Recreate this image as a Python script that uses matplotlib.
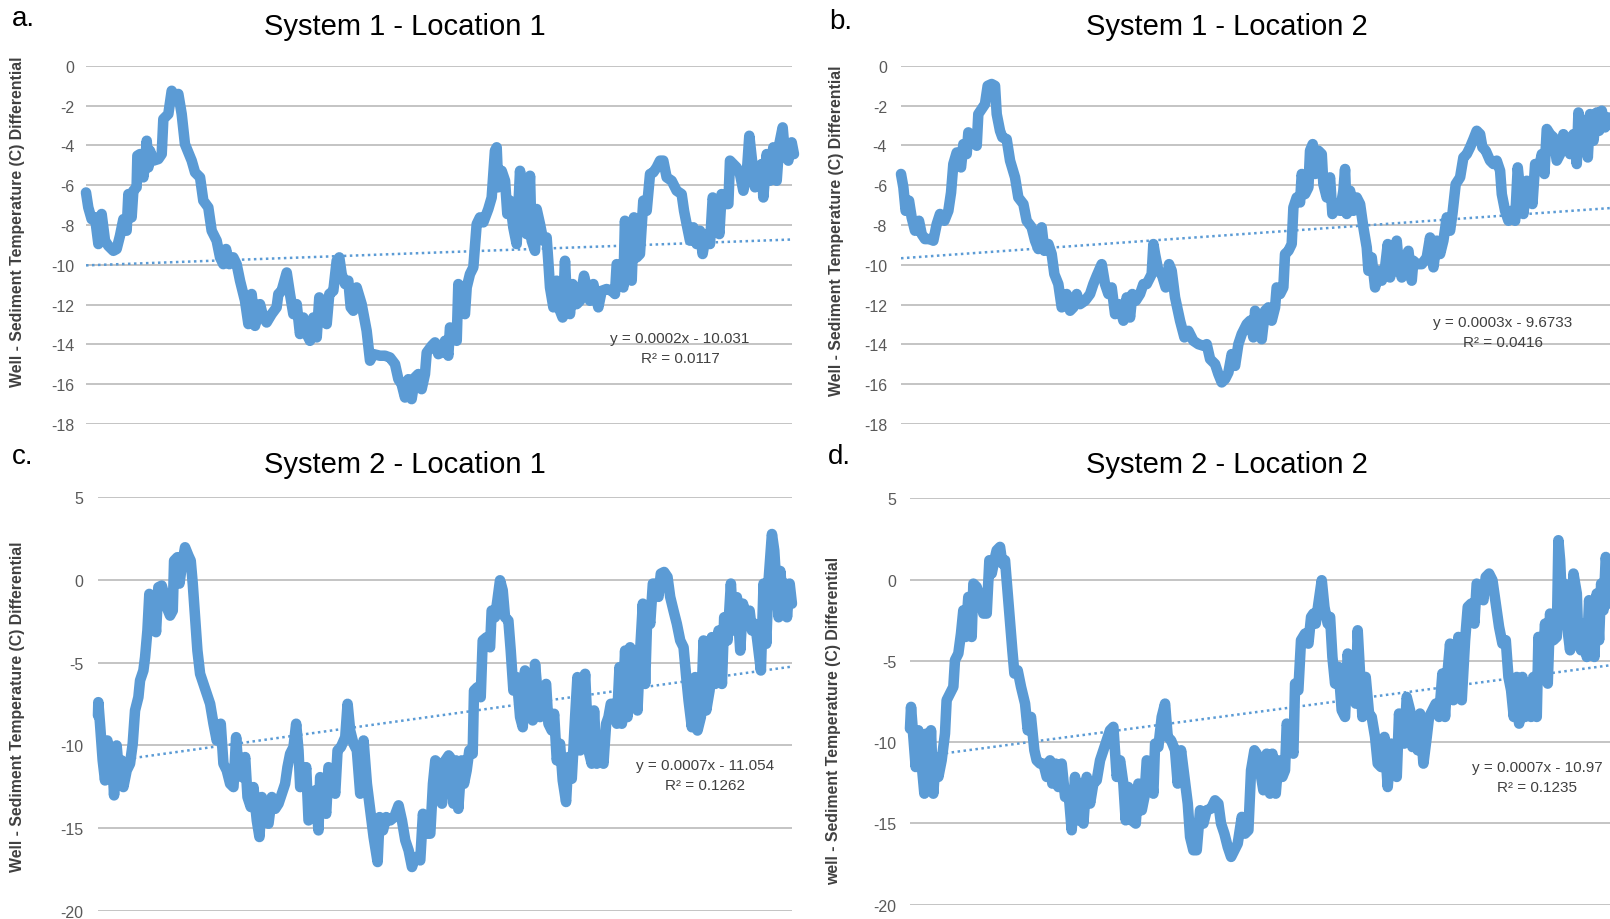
import matplotlib
matplotlib.use("Agg")
import matplotlib.pyplot as plt
import numpy as np

plt.rcParams['font.family'] = ['Liberation Sans Narrow', 'Liberation Sans', 'DejaVu Sans']

# ---------------- DATA ----------------
titles = ["System 1 - Location 1", "System 1 - Location 2",
          "System 2 - Location 1", "System 2 - Location 2"]
letters = ["a.", "b.", "c.", "d."]
ylabels = ["Well - Sediment Temperature (C) Differential",
           "Well - Sediment Temperature (C) Differential",
           "Well - Sediment Temperature (C) Differential",
           "well - Sediment Temperature (C) Differential"]
slopes = [0.0002, 0.0003, 0.0007, 0.0007]
intercepts = [-10.031, -9.6733, -11.054, -10.97]
eq_texts = ["y = 0.0002x - 10.031", "y = 0.0003x - 9.6733",
            "y = 0.0007x - 11.054", "y = 0.0007x - 10.97"]
r2_texts = ["R² = 0.0117", "R² = 0.0416", "R² = 0.1262", "R² = 0.1235"]
x_max = [6500, 8400, 8300, 8140]
yticks_12 = [0, -2, -4, -6, -8, -10, -12, -14, -16, -18]
yticks_34 = [5, 0, -5, -10, -15, -20]

a_x = [0,21,52,83,114,144,175,206,252,282,313,344,374,390,420,436,466,473,497,528,543,559,574,589,620,666,697,712,758,789,819,850,881,911,942,973,1004,1050,1080,1126,1157,1203,1234,1264,1289,1320,1356,1387,1418,1464,1495,1525,1556,1602,1633,1663,1709,1755,1771,1801,1848,1878,1909,1940,1970,2001,2032,2062,2093,2124,2148,2185,2216,2240,2277,2308,2332,2354,2385,2415,2437,2461,2492,2538,2584,2615,2645,2707,2753,2799,2845,2876,2906,2937,2968,2998,3029,3060,3090,3121,3137,3183,3213,3244,
       3274,3305,3336,3351,3382,3413,3428,3459,3489,3505,3535,3566,3597,3627,3658,3704,3735,3765,3781,3796,3827,3858,3879,3904,3934,3965,3996,4026,4057,4088,4103,4134,4149,4180,4210,4241,4256,4272,4303,4333,4364,4388,4410,4425,4456,4480,4517,4548,4585,4609,4640,4671,4717,4748,4793,4840,4870,4886,4916,4947,4962,4993,5024,5045,5070,5100,5131,5162,5193,5223,5254,5285,5315,5346,5392,5438,5484,5506,5530,5561,5592,5622,5653,5677,5708,5745,5770,5800,5831,5852,5883,5914,5929,5960,5990,6021,6052,6083,6107,6129,6159,6190,6221,6236,6267,6297,6328,6359,6383,6414,6435,6466,6497,6518]
a_y = [-6.37,-7.12,-7.71,-7.62,-8.96,-7.45,-8.79,-9.05,-9.30,-9.21,-8.54,-7.71,-8.29,-6.45,-7.62,-6.28,-6.11,-4.52,-4.44,-5.61,-4.94,-3.77,-5.11,-4.27,-4.77,-4.69,-4.44,-2.68,-2.43,-1.26,-1.59,-1.42,-2.43,-3.94,-4.36,-4.77,-5.36,-5.61,-6.78,-7.12,-8.29,-8.79,-9.63,-9.97,-9.21,-9.97,-9.63,-9.97,-10.80,-11.81,-12.98,-11.47,-13.07,-11.98,-12.65,-12.90,-12.48,-12.14,-11.47,-11.31,-10.39,-11.47,-12.48,-11.98,-13.48,-12.65,-13.48,-13.82,-12.65,-13.65,-11.64,-12.48,-12.98,-11.47,-11.31,-9.80,-9.63,-10.47,-10.97,-10.80,-12.14,-12.31,-11.14,-11.98,-13.32,-14.82,-14.49,-14.57,-14.57,-14.66,-14.99,-15.75,-16.00,-16.67,-15.75,-16.75,-15.66,-15.49,-16.25,-15.49,-14.41,-14.07,-13.90,-14.49,
       -14.41,-13.82,-14.57,-13.15,-13.48,-13.82,-10.97,-12.31,-12.48,-11.14,-10.47,-10.13,-7.96,-7.62,-7.87,-7.20,-6.62,-4.27,-4.10,-6.11,-5.28,-5.78,-7.45,-6.78,-8.12,-8.96,-5.28,-7.12,-8.46,-5.53,-8.79,-9.30,-7.20,-7.96,-8.79,-8.63,-9.80,-11.14,-12.14,-10.80,-12.31,-12.65,-9.80,-11.47,-12.48,-10.97,-11.98,-11.81,-10.55,-11.14,-11.81,-10.97,-12.14,-11.31,-11.22,-11.31,-11.47,-9.97,-10.13,-11.14,-7.79,-9.80,-10.80,-7.62,-9.63,-9.46,-6.78,-7.29,-5.44,-5.36,-5.11,-4.77,-4.77,-5.61,-5.78,-6.28,-6.45,-7.29,-7.96,-8.79,-8.12,-8.96,-8.29,-9.46,-8.46,-8.96,-6.62,-7.29,-8.46,-6.45,-6.95,-6.95,-4.77,-4.94,-5.11,-5.44,-6.28,-5.44,-3.52,-4.61,-6.11,-5.11,-4.94,-6.62,-4.44,-5.78,-4.10,-5.78,-3.94,-3.10,-4.44,-4.77,-3.85,-4.44]

b_x = [0,28,55,95,126,166,213,245,284,344,383,423,462,514,561,593,620,660,711,739,778,798,857,897,916,956,995,1027,1074,1114,1134,1173,1201,1252,1292,1351,1390,1450,1489,1548,1588,1627,1667,1699,1746,1785,1817,1864,1904,1963,2003,2042,2082,2121,2180,2240,2279,2319,2378,2417,2457,2496,2536,2583,2635,2674,2714,2741,2781,2832,2872,2911,2970,2990,3010,3049,3089,3136,3176,3207,3247,3306,3358,3405,3464,3523,3583,3622,3662,3721,3760,3800,3839,3879,3918,3958,3997,4037,4096,4136,4175,4195,
       4234,4274,4313,4353,4392,4432,4451,4491,4530,4550,4590,4629,4649,4688,4728,4748,4787,4827,4846,4878,4906,4945,4985,5004,5044,5083,5111,5162,5202,5241,5261,5281,5320,5360,5399,5439,5478,5518,5538,5577,5617,5656,5696,5735,5767,5794,5834,5873,5901,5933,5972,6012,6051,6071,6110,6170,6229,6268,6308,6347,6387,6426,6466,6505,6533,6572,6624,6663,6703,6742,6782,6821,6861,6888,6928,6979,7019,7058,7098,7118,7157,7197,7236,7276,7307,7335,7374,7414,7453,7481,7513,7552,7592,7623,7651,7690,7730,7769,7809,7848,7888,7927,7967,8006,8026,8066,8105,8137,8164,8204,8243,8271,8303,8342,8382,8401]
b_y = [-5.44,-6.11,-7.29,-6.78,-7.62,-8.29,-7.79,-8.46,-8.71,-8.71,-8.79,-7.96,-7.45,-7.79,-7.29,-6.37,-4.94,-4.36,-5.11,-3.94,-4.44,-3.35,-3.85,-4.02,-2.43,-2.18,-1.93,-1.01,-0.92,-1.01,-2.43,-3.27,-3.60,-3.69,-4.77,-5.61,-6.62,-6.95,-7.79,-8.12,-8.79,-9.21,-8.12,-9.30,-8.96,-9.46,-10.47,-10.97,-12.14,-11.47,-12.31,-12.14,-11.47,-11.98,-11.81,-11.47,-10.97,-10.55,-9.97,-10.97,-11.47,-11.14,-12.48,-11.98,-12.81,-11.64,-12.65,-11.47,-11.81,-11.47,-10.97,-10.97,-10.47,-8.96,-9.46,-10.30,-10.47,-11.14,-9.97,-10.30,-11.64,-12.81,-13.65,-13.32,-13.82,-13.99,-14.07,-13.99,-14.74,-14.99,-15.49,-15.91,-15.75,-15.41,-14.49,-15.08,-13.99,-13.48,-12.98,-12.81,-13.65,-12.31,
       -12.65,-13.74,-12.31,-12.14,-12.81,-12.14,-11.14,-11.47,-11.14,-9.46,-9.30,-8.96,-7.12,-6.62,-6.87,-5.44,-6.45,-6.11,-4.27,-3.94,-5.44,-4.27,-4.44,-5.95,-6.62,-5.61,-7.45,-6.95,-7.29,-6.28,-5.19,-7.45,-6.28,-7.29,-6.62,-6.95,-8.12,-9.13,-10.30,-9.63,-11.14,-10.30,-10.80,-10.13,-8.96,-10.64,-9.80,-8.79,-10.13,-10.64,-9.63,-9.30,-10.80,-9.80,-9.97,-9.97,-9.63,-8.63,-10.13,-8.79,-9.46,-8.79,-7.62,-8.29,-7.45,-5.95,-5.61,-4.61,-4.44,-4.10,-3.69,-3.27,-3.44,-4.10,-4.27,-4.77,-4.94,-4.77,-5.28,-6.45,-7.29,-7.79,-7.29,-7.79,-5.11,-6.28,-7.45,-5.78,-6.11,-6.95,-4.94,-5.28,-4.44,-5.44,-3.18,-3.44,-3.60,-4.77,-4.44,-3.44,-3.77,-4.44,-3.44,-4.94,-2.35,-3.27,-2.76,-4.61,-2.43,-3.77,-2.35,-3.27,-2.26,-3.10,-2.60,-2.93]

c_x = [0,4,24,56,84,112,136,164,192,223,255,283,303,343,383,415,443,483,503,543,563,591,614,642,662,694,722,762,790,822,862,894,910,950,974,1001,1041,1081,1109,1133,1161,1189,1221,1261,1301,1341,1381,1420,1468,1500,1540,1580,1620,1652,1680,1720,1760,1788,1827,1859,1899,1931,1959,1999,2039,2079,2119,2159,2198,2238,2266,2298,2338,2370,2398,2418,2458,2490,2518,2558,2597,2637,2657,2697,2729,2757,2797,2837,2865,2905,2957,2985,3016,3056,3096,3136,3176,3216,3256,3296,3344,3368,3408,3447,3495,3543,3595,3635,3675,3715,3755,3794,3854,3886,3926,3974,4006,4034,4074,4114,4154,4194,
       4210,4250,4282,4309,4349,4377,4409,4441,4481,4497,4537,4577,4601,4649,4689,4708,4748,4776,4808,4840,4868,4908,4936,4968,5008,5048,5080,5107,5135,5167,5199,5227,5255,5287,5319,5359,5387,5427,5455,5487,5526,5558,5598,5626,5666,5706,5734,5766,5798,5826,5866,5905,5933,5965,6005,6045,6077,6105,6133,6165,6205,6237,6265,6304,6332,6364,6396,6424,6452,6484,6516,6544,6572,6604,6636,6676,6703,6731,6771,6811,6843,6883,6923,6963,7003,7035,7063,7102,7142,7170,7210,7242,7274,7314,7342,7382,7422,7462,7489,7529,7569,7601,7641,7681,7713,7753,7793,7821,7861,7900,7928,7960,7992,8020,8040,8060,8088,8112,8140,8160,8192,8220,8240,8272,8299]
c_y = [-8.19,-7.39,-8.69,-10.90,-12.11,-9.70,-11.91,-10.10,-13.01,-10.00,-11.91,-10.90,-12.51,-11.51,-11.10,-9.90,-7.89,-7.09,-6.08,-5.48,-4.68,-3.07,-0.86,-2.27,-1.06,-3.17,-0.46,-0.36,-0.86,-1.67,-2.17,-1.87,1.14,1.35,-0.24,0.76,1.95,1.45,1.14,-0.24,-2.27,-4.28,-5.68,-6.29,-6.89,-7.49,-8.69,-9.70,-8.69,-11.10,-11.51,-12.31,-12.51,-9.50,-11.51,-11.91,-10.70,-13.11,-13.71,-12.51,-14.52,-15.52,-13.11,-14.32,-14.72,-13.11,-13.82,-13.51,-12.91,-12.31,-11.31,-10.50,-10.10,-8.69,-10.30,-12.51,-12.31,-11.31,-14.52,-14.32,-12.71,-15.12,-11.91,-13.31,-14.12,-11.31,-11.91,-12.91,-10.30,-10.10,-9.50,-7.49,-9.10,-9.90,-10.30,-12.91,-9.70,-12.31,-13.92,-15.52,-17.03,-14.32,-15.12,-14.32,-14.52,-14.32,-13.61,-14.52,-15.72,-16.33,-17.33,-16.73,-16.93,-14.12,-15.32,-15.32,-12.31,-10.90,-11.10,-13.51,-10.90,-10.60,
       -10.70,-13.51,-10.90,-13.82,-10.90,-12.31,-11.51,-10.30,-10.50,-6.69,-6.49,-7.09,-3.67,-3.47,-4.08,-1.87,-2.27,-1.27,-0.04,-0.64,-2.27,-2.47,-4.28,-6.69,-5.88,-8.29,-8.90,-5.48,-8.09,-6.27,-8.49,-5.08,-6.69,-8.29,-6.69,-6.29,-8.69,-9.10,-8.09,-10.90,-9.90,-12.11,-13.41,-10.70,-12.01,-8.29,-5.88,-10.30,-7.49,-5.68,-10.30,-11.10,-7.89,-11.10,-10.30,-11.10,-8.69,-8.29,-7.49,-7.49,-8.69,-5.28,-8.69,-4.28,-8.29,-4.08,-6.69,-4.28,-7.89,-4.28,-1.45,-6.29,-1.65,-2.67,-0.24,-0.24,-1.04,0.36,0.46,0.16,-1.04,-1.87,-2.67,-3.67,-4.08,-5.88,-7.29,-8.90,-5.88,-9.10,-8.29,-3.67,-7.89,-6.69,-3.47,-6.29,-3.07,-6.29,-2.27,-3.67,-0.24,-3.07,-1.06,-4.28,-1.45,-2.27,-1.87,-3.07,-2.67,-4.28,-5.48,-0.24,-3.87,-0.04,1.35,2.75,1.75,-0.24,-2.27,0.52,-1.27,-0.24,-2.27,-0.24,-1.45]

d_x = [0,12,39,66,97,128,167,194,221,244,271,299,330,368,407,426,465,504,523,562,593,620,647,678,717,737,775,814,853,892,923,950,981,1008,1047,1074,1105,1136,1163,1190,1214,1252,1291,1338,1369,1407,1446,1473,1512,1551,1590,1628,1655,1694,1725,1764,1803,1842,1880,1919,1950,1977,2016,2055,2094,2132,2171,2210,2249,2287,2326,2365,2404,2443,2481,2508,2539,2578,2625,2656,2695,2726,2753,2791,2830,2850,2888,2927,2966,2997,3036,3082,3113,3152,3191,3230,3257,3295,3334,3373,3412,3450,3501,3547,3586,3617,3656,3695,3734,3772,3811,3858,3896,3935,3966,4005,
       4032,4070,4109,4148,4187,4214,4253,4284,4330,4361,4381,4419,4458,4478,4516,4547,4594,4633,4664,4691,4718,4749,4788,4819,4857,4885,4912,4943,4982,5020,5059,5090,5129,5156,5183,5206,5234,5261,5299,5338,5369,5408,5439,5478,5517,5555,5594,5621,5660,5687,5718,5749,5776,5815,5842,5873,5904,5931,5970,6009,6036,6075,6114,6152,6191,6222,6253,6280,6319,6346,6377,6416,6455,6486,6525,6563,6590,6629,6668,6695,6734,6773,6812,6850,6889,6928,6959,6990,7021,7056,7083,7122,7153,7184,7222,7250,7288,7308,7346,7385,7416,7443,7482,7521,7540,7560,7579,7610,7637,7676,7715,7754,7773,7804,7843,7870,7897,7928,7959,7986,8013,8037,8064,8091,8122,8141]
d_y = [-9.17,-7.83,-9.68,-11.53,-9.27,-10.91,-13.17,-9.47,-12.55,-9.27,-13.17,-10.91,-12.14,-11.12,-9.47,-7.42,-7.01,-6.60,-4.96,-4.55,-3.32,-1.89,-3.53,-1.07,-3.53,-0.25,-0.45,-1.07,-2.09,-2.09,1.19,0.37,1.19,1.80,2.01,0.98,1.19,-0.86,-2.71,-4.35,-5.78,-5.58,-6.60,-7.63,-9.27,-8.45,-10.50,-11.12,-11.32,-11.32,-12.14,-11.12,-12.55,-11.32,-12.76,-11.32,-13.37,-12.96,-15.42,-12.14,-14.81,-12.55,-15.01,-12.14,-13.78,-12.55,-12.35,-11.12,-10.50,-9.89,-9.27,-9.06,-12.14,-11.12,-12.55,-14.81,-12.76,-14.81,-15.01,-12.55,-14.19,-13.37,-11.12,-11.32,-13.17,-10.09,-10.30,-8.45,-7.63,-9.68,-9.89,-10.50,-12.55,-10.50,-12.14,-13.78,-15.83,-16.65,-16.65,-14.19,-15.01,-14.19,-14.09,-13.58,-13.78,-15.01,-15.63,-16.45,-17.06,-16.65,-16.24,-14.60,-15.63,-15.42,-11.73,-10.50,
       -10.71,-11.73,-12.96,-10.71,-13.17,-10.71,-13.17,-11.12,-12.14,-11.73,-8.86,-9.68,-10.71,-6.40,-6.81,-3.73,-3.32,-3.94,-2.30,-2.09,-2.71,-1.48,-0.04,-1.68,-2.71,-2.30,-4.76,-6.40,-5.37,-8.04,-8.45,-4.55,-6.40,-6.40,-7.63,-3.12,-5.78,-8.45,-5.99,-8.24,-8.45,-9.68,-11.32,-11.53,-9.68,-12.76,-10.09,-10.71,-12.14,-8.24,-9.89,-10.09,-7.22,-8.04,-10.30,-8.45,-10.50,-8.24,-11.32,-9.68,-8.45,-8.04,-7.63,-8.45,-5.78,-8.45,-5.58,-3.94,-7.42,-5.99,-3.53,-7.42,-3.73,-1.68,-1.48,-2.71,-0.25,-0.45,-1.27,0.16,0.37,-0.04,-1.48,-2.91,-3.94,-3.73,-5.99,-6.81,-8.45,-5.99,-8.86,-5.99,-8.45,-7.22,-8.45,-5.99,-8.45,-3.53,-5.99,-2.71,-6.40,-2.09,-3.73,-3.53,2.42,1.19,-1.07,-0.25,-2.71,-4.35,0.37,-0.86,-3.94,-4.35,-2.71,-4.76,-1.27,-3.32,-4.76,-0.86,-3.73,-0.25,-1.89,1.39,-0.04,-1.48]

series_x = [a_x, b_x, c_x, d_x]
series_y = [a_y, b_y, c_y, d_y]

# ---------------- LAYOUT ----------------
W, H = 1610, 920
fig = plt.figure(figsize=(W / 100, H / 100), dpi=100)
BLUE = '#5B9BD5'
GRID = '#BFBFBF'

def fx(px):
    return px / W

def fy(py):
    return 1 - py / H

# plot boxes in pixels: x0, x1, ytop, ybottom
boxes = [(86, 792, 66.7, 425.0), (901, 1610, 66.7, 425.0),
         (98, 792, 497.7, 912.3), (910, 1610, 499.3, 905.7)]
title_pos = [(405, 35), (1227, 35), (405, 473), (1227, 473)]
letter_pos = [(12, 26), (829, 29), (12, 464), (828, 464)]
ylabel_pos = [(18, 222), (837, 231), (18, 707), (834, 721)]
eq_pos = [(680, 339), (1503, 323), (705, 766), (1537, 768)]
tick_pad = [8.5, 10, 10.5, 10]

for i in range(4):
    x0, x1, yt, yb = boxes[i]
    ax = fig.add_axes([fx(x0), fy(yb), (x1 - x0) / W, (yb - yt) / H])
    if i < 2:
        ticks = yticks_12
    else:
        ticks = yticks_34
    ax.set_ylim(min(ticks), max(ticks))
    ax.set_xlim(0, x_max[i])
    ax.set_yticks(ticks)
    ax.set_yticklabels([str(t) for t in ticks])
    ax.set_xticks([])
    for s in ax.spines.values():
        s.set_visible(False)
    ax.tick_params(axis='y', length=0, pad=tick_pad[i], labelsize=11.5, labelcolor='#595959')
    ax.yaxis.grid(True, color=GRID, lw=1.3)
    ax.set_axisbelow(True)

    xt = np.array([0, x_max[i]])
    ax.plot(xt, slopes[i] * xt + intercepts[i], color=BLUE, lw=1.8,
            linestyle=(0, (1, 1.4)), zorder=2)
    ax.plot(series_x[i], series_y[i], color=BLUE, lw=7.6,
            solid_joinstyle='round', solid_capstyle='round', zorder=3, clip_on=False)

    tx, ty = title_pos[i]
    fig.text(fx(tx), fy(ty), titles[i], ha='center', va='baseline', fontsize=21, color='#000000')
    lx, ly = letter_pos[i]
    fig.text(fx(lx), fy(ly), letters[i], ha='left', va='baseline', fontsize=20, color='#000000')
    yx, yy = ylabel_pos[i]
    fig.text(fx(yx), fy(yy), ylabels[i], ha='center', va='center', rotation=90,
             fontsize=11.4, fontweight='bold', color='#404040')
    ex, ey = eq_pos[i]
    fig.text(fx(ex), fy(ey), eq_texts[i], ha='center', va='center', fontsize=11, color='#404040')
    fig.text(fx(ex), fy(ey + 20), r2_texts[i], ha='center', va='center', fontsize=11, color='#404040')

fig.savefig("out.png", dpi=100)
